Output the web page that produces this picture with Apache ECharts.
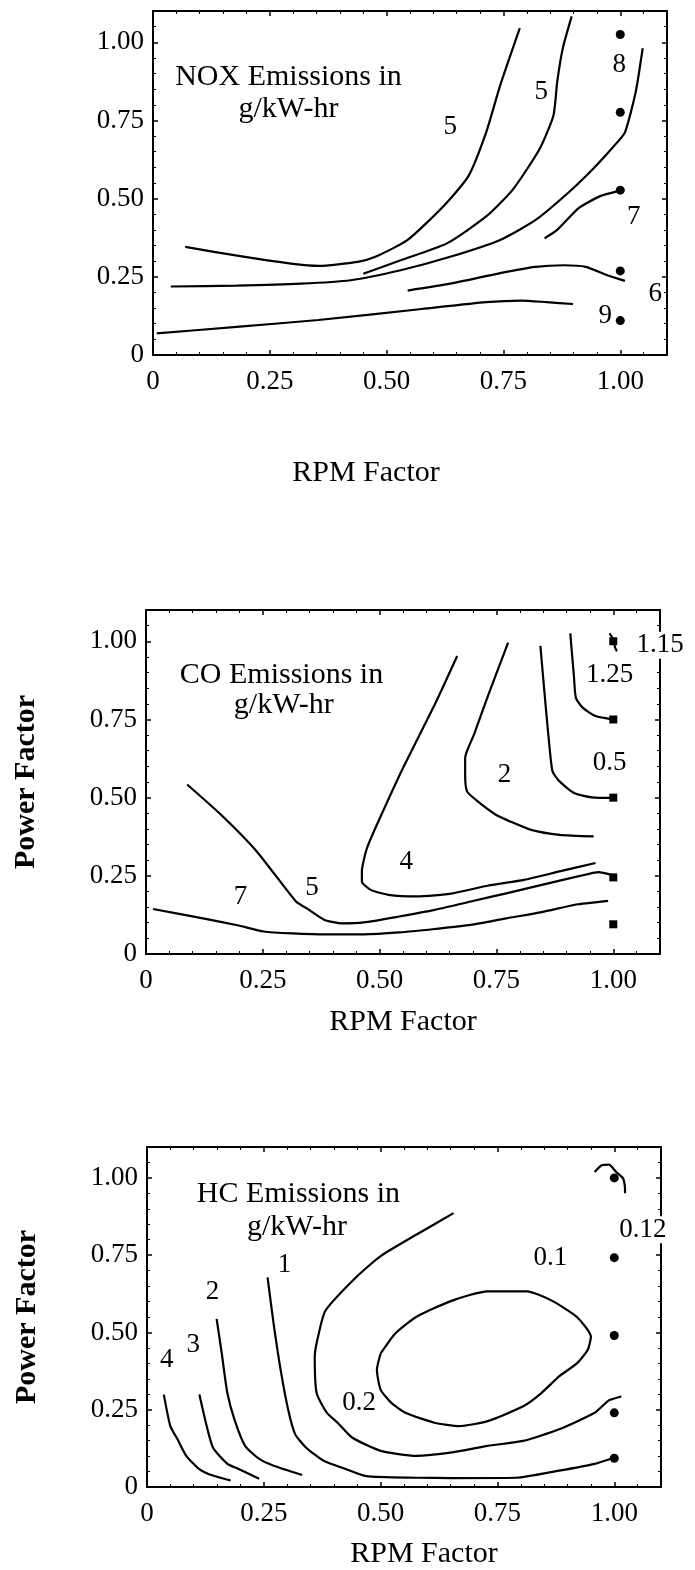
<!DOCTYPE html>
<html>
<head>
<meta charset="utf-8">
<script src="https://cdn.jsdelivr.net/npm/echarts/dist/echarts.min.js"></script>
<style>
html,body{margin:0;padding:0;background:#fff;}
#chart{width:695px;height:1570px;}
</style>
</head>
<body>
<div id="chart"></div>
<script>
// ---------- tick labels ----------
const tickValues = [0, 0.25, 0.5, 0.75, 1.0];
const tickLabels = ['0', '0.25', '0.50', '0.75', '1.00'];

// ---------- NOX panel ----------
const noxLineA = [[0.069,0.346],[0.354,0.285],[0.438,0.298],[0.476,0.314],[0.545,0.368],[0.621,0.475],[0.675,0.572],[0.713,0.712],[0.743,0.862],[0.785,1.045]];
const noxLineB = [[0.450,0.260],[0.530,0.303],[0.629,0.357],[0.713,0.443],[0.770,0.529],[0.827,0.658],[0.857,0.766],[0.865,0.873],[0.877,0.981],[0.896,1.083]];
const noxLineC = [[0.038,0.219],[0.179,0.222],[0.316,0.228],[0.423,0.239],[0.530,0.271],[0.636,0.314],[0.743,0.368],[0.819,0.432],[0.888,0.518],[0.941,0.594],[0.987,0.669],[1.010,0.712],[1.033,0.841],[1.048,0.981]];
const noxLineD = [[0.838,0.373],[0.865,0.400],[0.911,0.470],[0.957,0.508],[0.995,0.524]];
const noxLineE = [[0.545,0.206],[0.636,0.228],[0.743,0.262],[0.819,0.282],[0.880,0.287],[0.926,0.282],[0.972,0.255],[1.010,0.237]];
const noxLineF = [[0.008,0.069],[0.179,0.090],[0.354,0.112],[0.575,0.147],[0.713,0.169],[0.789,0.174],[0.842,0.169],[0.899,0.163]];
const noxPoints = [[1,1.025],[1,0.776],[1,0.527],[1,0.269],[1,0.11]];
const noxLabels = [[0.636,0.728,'5'],[0.831,0.841,'5'],[0.998,0.927,'8'],[1.029,0.443,'7'],[1.075,0.196,'6'],[0.968,0.126,'9']];
const noxTitle = [[0.29,0.889,'NOX Emissions in'],[0.29,0.787,'g/kW-hr']];

// ---------- CO panel ----------
const coLine7 = [[0.015,0.144],[0.122,0.114],[0.198,0.091],[0.252,0.072],[0.313,0.066],[0.389,0.063],[0.466,0.063],[0.542,0.069],[0.618,0.080],[0.695,0.093],[0.771,0.114],[0.847,0.134],[0.924,0.159],[0.989,0.170]];
const coLine5 = [[0.088,0.542],[0.160,0.446],[0.237,0.328],[0.321,0.168],[0.344,0.146],[0.382,0.109],[0.420,0.098],[0.466,0.101],[0.542,0.120],[0.618,0.141],[0.695,0.168],[0.771,0.194],[0.847,0.221],[0.924,0.248],[0.969,0.262],[0.996,0.253]];
const coLine4 = [[0.666,0.953],[0.618,0.798],[0.550,0.595],[0.504,0.446],[0.473,0.339],[0.462,0.264],[0.462,0.232],[0.481,0.205],[0.519,0.189],[0.580,0.184],[0.656,0.194],[0.733,0.219],[0.809,0.237],[0.885,0.264],[0.962,0.291]];
const coLine2 = [[0.775,0.996],[0.733,0.830],[0.702,0.702],[0.683,0.627],[0.683,0.574],[0.687,0.520],[0.710,0.488],[0.748,0.446],[0.779,0.424],[0.824,0.397],[0.885,0.381],[0.958,0.376]];
const coLine05 = [[0.844,0.985],[0.855,0.798],[0.863,0.670],[0.870,0.584],[0.885,0.552],[0.916,0.515],[0.954,0.501],[1.0,0.499]];
const coLine125 = [[0.908,1.025],[0.916,0.884],[0.920,0.819],[0.935,0.787],[0.962,0.761],[1.0,0.750]];
const coLine115 = [[0.992,1.025],[1.0,1.006],[1.004,0.979],[1.008,0.968]];
const coPoints = [[1,1.0],[1,0.75],[1,0.5],[1,0.245],[1,0.095]];
const coLabels = [[1.1,0.987,'1.15'],[0.992,0.891,'1.25'],[0.992,0.611,'0.5'],[0.767,0.574,'2'],[0.557,0.296,'4'],[0.355,0.210,'5'],[0.202,0.184,'7']];
const coTitle = [[0.29,0.891,'CO Emissions in'],[0.295,0.796,'g/kW-hr']];

// ---------- HC panel ----------
const hcLine4 = [[0.036,0.299],[0.050,0.197],[0.065,0.155],[0.084,0.101],[0.111,0.059],[0.141,0.037],[0.179,0.021]];
const hcLine3 = [[0.112,0.299],[0.126,0.208],[0.141,0.128],[0.172,0.075],[0.195,0.059],[0.240,0.027]];
const hcLine2 = [[0.149,0.544],[0.160,0.432],[0.172,0.304],[0.187,0.219],[0.210,0.133],[0.240,0.091],[0.271,0.069],[0.332,0.039]];
const hcLine1 = [[0.258,0.678],[0.271,0.528],[0.286,0.379],[0.302,0.251],[0.317,0.171],[0.340,0.128],[0.378,0.085],[0.424,0.059],[0.469,0.035],[0.576,0.030],[0.653,0.029],[0.790,0.030],[0.882,0.053],[0.958,0.075],[0.996,0.093]];
const hcLine02 = [[0.656,0.886],[0.576,0.816],[0.500,0.747],[0.447,0.678],[0.382,0.571],[0.366,0.486],[0.359,0.422],[0.363,0.304],[0.385,0.240],[0.408,0.208],[0.439,0.160],[0.500,0.117],[0.576,0.101],[0.653,0.112],[0.729,0.133],[0.805,0.149],[0.882,0.187],[0.958,0.240],[0.989,0.281],[1.015,0.293]];
const hcLine01 = [[0.500,0.432],[0.531,0.496],[0.576,0.550],[0.653,0.603],[0.729,0.633],[0.813,0.633],[0.866,0.603],[0.920,0.550],[0.950,0.486],[0.943,0.443],[0.920,0.400],[0.882,0.358],[0.844,0.304],[0.805,0.261],[0.729,0.213],[0.668,0.197],[0.615,0.208],[0.553,0.240],[0.523,0.272],[0.500,0.315],[0.492,0.379],[0.500,0.432]];
const hcLine012 = [[0.958,1.019],[0.973,1.041],[0.989,1.043],[1.004,1.019],[1.019,0.998],[1.023,0.966],[1.023,0.950]];
const hcPoints = [[1,1.0],[1,0.742],[1,0.49],[1,0.24],[1,0.093]];
const hcLabels = [[1.061,0.832,'0.12'],[0.863,0.742,'0.1'],[0.454,0.272,'0.2'],[0.294,0.720,'1'],[0.140,0.630,'2'],[0.099,0.459,'3'],[0.042,0.411,'4']];
const hcTitle = [[0.324,0.946,'HC Emissions in'],[0.321,0.840,'g/kW-hr']];

const xAxisTitle = 'RPM Factor';
const yAxisTitle = 'Power Factor';

// ---------- styling / layout ----------
const FONT = 'Liberation Serif, Times New Roman, serif';
const grids = [
  {left:153, top:11, width:514, height:344},
  {left:146, top:610, width:514, height:344},
  {left:147, top:1147, width:514, height:344}
];

function tickFmt(v){
  const i = tickValues.findIndex(t => Math.abs(t - v) < 1e-6);
  return i >= 0 ? tickLabels[i] : '';
}

function axisBase(gi, pos, showLabel, isX){
  return {
    type:'value', gridIndex:gi, position:pos, min:0, max:1.1, interval:0.25,
    axisLine:{show:true, onZero:false, lineStyle:{color:'#000', width:2}},
    axisTick:{show:true, inside:true, length:5, lineStyle:{color:'#000', width:1.5}},
    minorTick:{show:true, splitNumber:5, length:3, lineStyle:{color:'#000', width:1}},
    splitLine:{show:false}, minorSplitLine:{show:false},
    axisLabel:{show:showLabel, formatter:tickFmt, color:'#000', fontFamily:FONT, fontSize:27,
      margin: isX ? 13 : 9},
    silent:true
  };
}

const xAxes = [], yAxes = [];
const xNamePad = [[0,88,0,0],[0,0,0,0],[0,0,0,40]];
const xNameGap = [103, 53, 52];
grids.forEach((g, i) => {
  const xb = axisBase(i, 'bottom', true, true);
  xb.name = xAxisTitle; xb.nameLocation = 'middle'; xb.nameGap = xNameGap[i];
  xb.nameTextStyle = {color:'#000', fontFamily:FONT, fontSize:30, padding:xNamePad[i]};
  xAxes.push(xb);
  xAxes.push(axisBase(i, 'top', false, true));
  const yl = axisBase(i, 'left', true, false);
  if (i > 0) {
    yl.name = yAxisTitle; yl.nameLocation = 'middle'; yl.nameGap = 105;
    yl.nameTextStyle = {color:'#000', fontFamily:FONT, fontSize:30, fontWeight:'bold'};
  }
  yAxes.push(yl);
  yAxes.push(axisBase(i, 'right', false, false));
});

const series = [];
function addLines(gi, lines){
  lines.forEach(d => series.push({
    type:'line', xAxisIndex:gi*2, yAxisIndex:gi*2, data:d,
    symbol:'none', smooth:0.2, clip:false,
    lineStyle:{color:'#000', width:2.2, opacity:1}, z:3, silent:true
  }));
}
function addPoints(gi, pts, sym, size){
  series.push({type:'scatter', xAxisIndex:gi*2, yAxisIndex:gi*2, data:pts,
    symbol:sym, symbolSize:size, itemStyle:{color:'#000', opacity:1}, z:4, silent:true});
}
function addText(gi, items, size){
  series.push({type:'scatter', xAxisIndex:gi*2, yAxisIndex:gi*2, data:items,
    symbolSize:0, itemStyle:{color:'#000', opacity:1}, z:5, silent:true, clip:false,
    label:{show:true, position:'inside', formatter:p => p.value[2], color:'#000', opacity:1,
      fontFamily:FONT, fontSize:size, backgroundColor:'#fff', lineHeight:size}});
}

addLines(0, [noxLineA, noxLineB, noxLineC, noxLineD, noxLineE, noxLineF]);
addPoints(0, noxPoints, 'circle', 9);
addText(0, noxLabels, 27);
addText(0, noxTitle, 30);

addLines(1, [coLine7, coLine5, coLine4, coLine2, coLine05, coLine125, coLine115]);
addPoints(1, coPoints, 'rect', 8);
addText(1, coLabels, 27);
addText(1, coTitle, 30);

addLines(2, [hcLine4, hcLine3, hcLine2, hcLine1, hcLine02, hcLine01, hcLine012]);
addPoints(2, hcPoints, 'circle', 9);
addText(2, hcLabels, 27);
addText(2, hcTitle, 30);

const chart = echarts.init(document.getElementById('chart'), null, {renderer:'canvas'});
chart.setOption({
  backgroundColor:'#fff',
  animation:false,
  grid:grids,
  xAxis:xAxes,
  yAxis:yAxes,
  series:series
});
</script>
</body>
</html>
